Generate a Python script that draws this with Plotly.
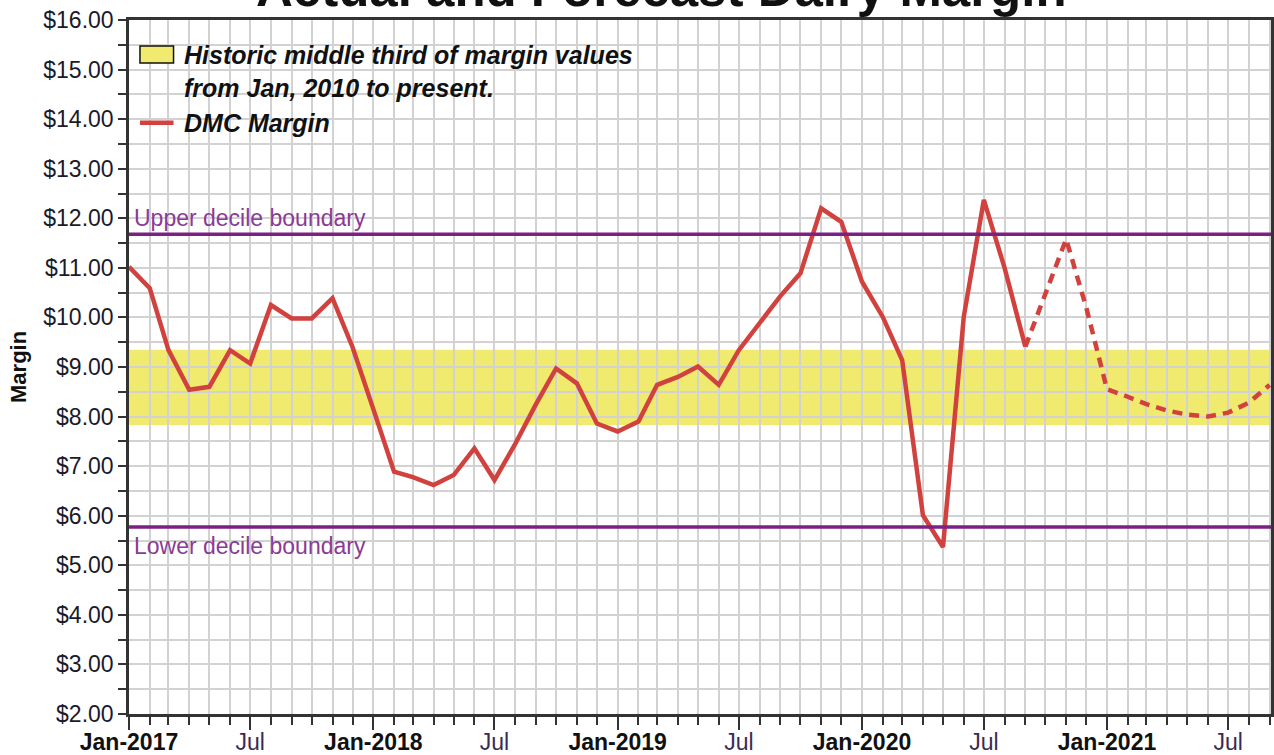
import plotly.graph_objects as go
import pandas as pd

# ---------------- data ----------------
actual_months = pd.date_range("2017-01-01", "2020-09-01", freq="MS")
actual_margin = [11.02, 10.59, 9.34, 8.54, 8.60, 9.34, 9.07, 10.25, 9.98, 9.98, 10.39, 9.40,
                 8.15, 6.89, 6.78, 6.62, 6.82, 7.36, 6.72, 7.45, 8.25, 8.97, 8.67, 7.86,
                 7.70, 7.90, 8.64, 8.80, 9.01, 8.64, 9.34, 9.90, 10.43, 10.89, 12.20, 11.93,
                 10.72, 10.01, 9.14, 6.01, 5.37, 10.01, 12.37, 11.00, 9.41]

forecast_months = pd.date_range("2020-09-01", "2021-09-01", freq="MS")
forecast_margin = [9.41, 10.50, 11.58, 10.20, 8.55, 8.40, 8.25, 8.12, 8.04, 8.00, 8.08, 8.28, 8.64]

band_low = 7.83
band_high = 9.35
upper_decile = 11.68
lower_decile = 5.77

x_tick_dates = ["2017-01-01", "2017-07-01", "2018-01-01", "2018-07-01", "2019-01-01",
                "2019-07-01", "2020-01-01", "2020-07-01", "2021-01-01", "2021-07-01"]
x_tick_labels = ["Jan-2017", "Jul", "Jan-2018", "Jul", "Jan-2019",
                 "Jul", "Jan-2020", "Jul", "Jan-2021", "Jul"]
x_range = ["2017-01-01", "2021-09-03"]
y_range = [2, 16]

title_text = "Actual and Forecast Dairy Margin"
legend_band_text = "Historic middle third of margin values<br>from Jan, 2010 to present."
legend_line_text = "DMC Margin"
upper_label = "Upper decile boundary"
lower_label = "Lower decile boundary"
y_title = "Margin"

# ---------------- styles ----------------
RED = "#D1423E"
PURPLE = "#7D2083"
PURPLE_TEXT = "#8B3A96"
YELLOW = "#F0EB6E"
GRID = "#D2D2D2"
AXIS = "#333333"
FONT = "Liberation Sans, Arial, sans-serif"

def fmt_tick(lbl):
    if lbl.startswith("Jan"):
        return "<b>" + lbl + "</b>"
    return "<span style='color:#3B2A55'>" + lbl + "</span>"

fig = go.Figure()

fig.add_trace(go.Scatter(x=actual_months, y=actual_margin, mode="lines",
                         line=dict(color=RED, width=4.5), name=legend_line_text,
                         hoverinfo="x+y"))
fig.add_trace(go.Scatter(x=forecast_months, y=forecast_margin, mode="lines",
                         line=dict(color=RED, width=4.5, dash="10px,7px"),
                         name="Forecast", hoverinfo="x+y"))

# band and decile lines
fig.add_shape(type="rect", xref="paper", x0=0, x1=1, yref="y", y0=band_low, y1=band_high,
              fillcolor=YELLOW, line=dict(width=0), layer="below")
for yv in (upper_decile, lower_decile):
    fig.add_shape(type="line", xref="paper", x0=0, x1=1, yref="y", y0=yv, y1=yv,
                  line=dict(color=PURPLE, width=3.5), layer="above")

# legend symbols (paper coords of plot area)
fig.add_shape(type="rect", xref="paper", yref="paper", x0=0.0096, x1=0.0390,
              y0=0.938, y1=0.9625, fillcolor=YELLOW, line=dict(color="#111", width=1.5),
              layer="above")
fig.add_shape(type="line", xref="paper", yref="paper", x0=0.0096, x1=0.0390,
              y0=0.852, y1=0.852, line=dict(color=RED, width=4.5), layer="above")

annotations = [
    dict(text="<b>" + title_text + "</b>", xref="paper", yref="paper", x=0.466, y=1,
         xanchor="center", yanchor="bottom", yshift=1, showarrow=False,
         font=dict(size=51, color="#111", family=FONT)),
    dict(text=upper_label, xref="paper", yref="y", x=0, y=upper_decile, xanchor="left",
         yanchor="bottom", xshift=3, yshift=1, showarrow=False,
         font=dict(size=23, color=PURPLE_TEXT, family=FONT)),
    dict(text=lower_label, xref="paper", yref="y", x=0, y=lower_decile, xanchor="left",
         yanchor="top", xshift=3, yshift=-4, showarrow=False,
         font=dict(size=23, color=PURPLE_TEXT, family=FONT)),
    dict(text="<b><i>" + legend_band_text + "</i></b>", xref="paper", yref="paper",
         x=0.0464, y=1, xanchor="left", yanchor="top", yshift=-19, align="left",
         showarrow=False, font=dict(size=25, color="#111", family=FONT)),
    dict(text="<b><i>" + legend_line_text + "</i></b>", xref="paper", yref="paper",
         x=0.0464, y=0.852, xanchor="left", yanchor="middle", yshift=0, align="left",
         showarrow=False, font=dict(size=25, color="#111", family=FONT)),
    dict(text="<b>" + y_title + "</b>", xref="paper", yref="paper", x=-0.0972, y=0.5,
         xanchor="center", yanchor="middle", textangle=-90, showarrow=False,
         font=dict(size=22, color="#111", family=FONT)),
]

fig.update_layout(
    width=1274, height=755,
    margin=dict(l=129, r=3, t=20, b=41, autoexpand=False),
    plot_bgcolor="white", paper_bgcolor="white",
    showlegend=False,
    font=dict(family=FONT, color="#222"),
    annotations=annotations,
    xaxis=dict(
        type="date", range=x_range, automargin=False,
        tickmode="array", tickvals=x_tick_dates, ticktext=[fmt_tick(t) for t in x_tick_labels],
        ticks="outside", ticklen=13, tickwidth=2, tickcolor=AXIS, ticklabelstandoff=-7,
        showline=True, linecolor=AXIS, linewidth=2.5, mirror=True,
        showgrid=True, gridcolor=GRID, gridwidth=1.5, zeroline=False,
        tickfont=dict(size=23, color="#111", family=FONT),
        minor=dict(dtick="M1", tick0="2017-01-01", ticks="outside", ticklen=8,
                   tickwidth=2, tickcolor=AXIS, showgrid=True, gridcolor=GRID, gridwidth=1.5),
    ),
    yaxis=dict(
        range=y_range, tickmode="linear", tick0=2, dtick=1, tickformat="$.2f",
        automargin=False,
        ticks="outside", ticklen=8, tickwidth=2, tickcolor=AXIS,
        showline=True, linecolor=AXIS, linewidth=2.5, mirror=True,
        showgrid=True, gridcolor=GRID, gridwidth=1.5, zeroline=False,
        tickfont=dict(size=23, color="#1A1A2A", family=FONT),
        minor=dict(dtick=0.5, tick0=2, ticks="outside", ticklen=8, tickwidth=2,
                   tickcolor=AXIS, showgrid=True, gridcolor=GRID, gridwidth=1.5),
    ),
)

fig.write_html("out.html", config={"displayModeBar": False},
               post_script="document.body.style.margin='0';document.body.style.overflow='hidden';")
